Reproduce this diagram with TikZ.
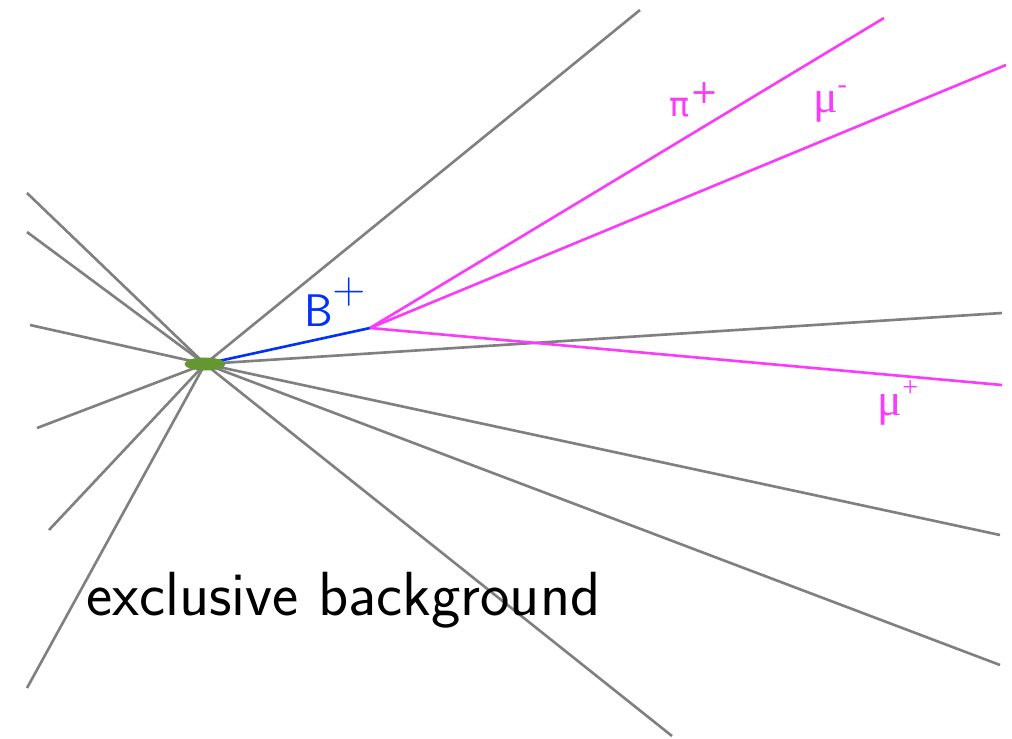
\documentclass[tikz,border=0pt]{standalone}
\usepackage{fontspec}
\newfontfamily\djs{DejaVu Sans}
\newfontfamily\lser{Liberation Serif}
\usetikzlibrary{shapes.geometric}
\definecolor{trk}{RGB}{128,128,128}
\definecolor{mag}{RGB}{250,60,250}
\definecolor{bblue}{RGB}{0,50,250}
\definecolor{vgreen}{RGB}{100,150,50}
\begin{document}
\begin{tikzpicture}[x=0.02cm,y=-0.02cm,
  track/.style={draw=trk,line width=1.5pt},
  dtrack/.style={draw=mag,line width=1.5pt},
  btrack/.style={draw=bblue,line width=1.5pt},
  lbl/.style={inner sep=0pt}]
\useasboundingbox (0,0) rectangle (1012,738);
% endpoints
\coordinate (g1) at (640,10);
\coordinate (g2) at (27,193);
\coordinate (g3) at (27,232);
\coordinate (g4) at (30,325);
\coordinate (g5) at (37,428);
\coordinate (g6) at (49,530);
\coordinate (g7) at (27,688);
\coordinate (g8) at (672,736);
\coordinate (g9) at (1000,665);
\coordinate (g10) at (1000,535);
\coordinate (g11) at (1002,313);
\coordinate (pv) at (205,364);
\coordinate (sv) at (370,328);
\coordinate (pi) at (884,18);
\coordinate (mum) at (1006,65);
\coordinate (mup) at (1002,385);
\foreach \e in {g1,g2,g3,g4,g5,g6,g7,g8,g9,g10,g11}
  \draw[track] (pv) -- (\e);
\draw[btrack] (pv) -- (sv);
\draw[dtrack] (sv) -- (pi);
\draw[dtrack] (sv) -- (mum);
\draw[dtrack] (sv) -- (mup);
\node[fill=vgreen,ellipse,inner sep=0pt,minimum width=0.82cm,minimum height=0.26cm] (vtx) at (pv) {};
\node[lbl,text=bblue,font=\sffamily\fontsize{26}{30}\selectfont] (lb) at (335,302) {B\raisebox{0.5em}{+}};
\node[lbl,text=mag,font=\djs\fontsize{19}{22}\selectfont] (lpi) at (694,100) {π\raisebox{0.4em}{+}};
\node[lbl,text=mag,font=\lser\fontsize{26}{30}\selectfont] (lmum) at (830,104) {μ\raisebox{0.4em}{\fontsize{16}{18}\selectfont -}};
\node[lbl,text=mag,font=\lser\fontsize{26}{30}\selectfont] (lmup) at (898,403) {μ\raisebox{0.4em}{\fontsize{16}{18}\selectfont +}};
\node[font=\sffamily\fontsize{35.5}{42}\selectfont,inner sep=0pt,anchor=west] (bg) at (86,600) {exclusive background};
\end{tikzpicture}
\end{document}
